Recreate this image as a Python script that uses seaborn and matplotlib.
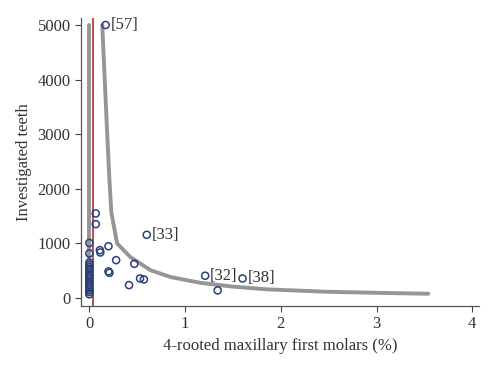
import matplotlib
matplotlib.use("Agg")
import matplotlib.pyplot as plt
import seaborn as sns
import pandas as pd

# study points: % of 4-rooted maxillary first molars vs investigated teeth
pct = [0.0, 0.0, 0.0, 0.0, 0.0, 0.0, 0.0, 0.0, 0.0, 0.0, 0.0, 0.0, 0.0, 0.0,
       0.0, 0.0, 0.0,
       0.067, 0.067, 0.11, 0.115, 0.20, 0.28, 0.20, 0.21, 0.415, 0.47,
       0.53, 0.57, 0.60, 0.17, 1.21, 1.34, 1.60]
teeth = [1010, 818, 650, 610, 570, 530, 480, 430, 390, 350, 310, 270, 230,
         190, 150, 110, 70,
         1550, 1354, 878, 836, 950, 695, 489, 463, 238, 628,
         360, 342, 1159, 5000, 410, 141, 360]

labels = {"[57]": (0.17, 5000), "[33]": (0.60, 1159),
          "[32]": (1.21, 410), "[38]": (1.60, 360)}

# funnel limits
upper_x = [0.135, 0.18, 0.21, 0.23, 0.29, 0.43, 0.64, 0.85, 1.16, 1.5, 1.86, 2.5, 3.21, 3.54]
upper_y = [5000, 3260, 2160, 1570, 1000, 750, 510, 385, 280, 210, 160, 115, 90, 80]
lower_x = [0.0, 0.0]
lower_y = [5000, 75]
pooled = 0.042

sns.set_style("ticks")
plt.rcParams["font.family"] = ["Liberation Serif", "DejaVu Serif"]
fs = 12

fig = plt.figure(figsize=(5, 3.68), dpi=100)
ax = fig.add_axes([0.162, 0.169, 0.796, 0.782])

line_kw = dict(sort=False, estimator=None, color="#959595", linewidth=2.8, ax=ax)
sns.lineplot(x=upper_x, y=upper_y, **line_kw)
sns.lineplot(x=lower_x, y=lower_y, **line_kw)
ax.axvline(pooled, color="#b03030", linewidth=1.2)

df = pd.DataFrame({"pct": pct, "teeth": teeth})
sns.scatterplot(data=df, x="pct", y="teeth", ax=ax, marker="o", s=26,
                facecolor="none", edgecolor="#2b3f7a", linewidth=1.1, zorder=5)

for txt, (x, y) in labels.items():
    ax.annotate(txt, (x, y), xytext=(3.5, 0), textcoords="offset points",
                ha="left", va="center", fontsize=fs, color="#333333")

ax.set_xlim(-0.087, 4.07)
ax.set_ylim(-141, 5128)
ax.set_xticks([0, 1, 2, 3, 4])
ax.set_yticks([0, 1000, 2000, 3000, 4000, 5000])
ax.set_xlabel("4-rooted maxillary first molars (%)", fontsize=fs, color="#333333")
ax.set_ylabel("Investigated teeth", fontsize=fs, color="#333333")
ax.tick_params(labelsize=fs, labelcolor="#333333", length=4, width=0.8, color="#444444")
for s in ["left", "bottom"]:
    ax.spines[s].set_color("#555555")
    ax.spines[s].set_linewidth(0.9)
sns.despine(ax=ax)

fig.savefig("out.png", dpi=100)
